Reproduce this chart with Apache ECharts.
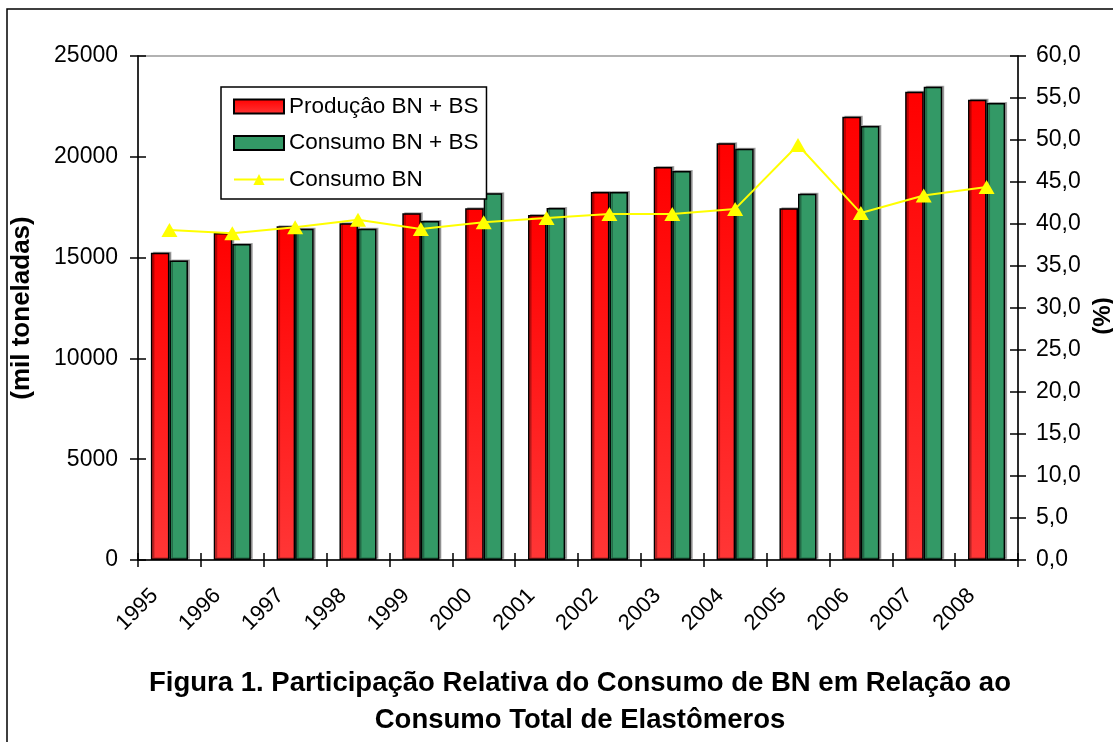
<!DOCTYPE html>
<html>
<head>
<meta charset="utf-8">
<script src="https://cdn.jsdelivr.net/npm/echarts@6/dist/echarts.min.js"></script>
<style>
html,body{margin:0;padding:0;background:#fff;}
#chart{width:1113px;height:742px;}
</style>
</head>
<body>
<div id="chart"></div>
<script>
const years = ['1995','1996','1997','1998','1999','2000','2001','2002','2003','2004','2005','2006','2007','2008'];
const producao = [15240,16220,16550,16700,17200,17450,17110,18250,19490,20670,17450,21990,23230,22830];
const consumo = [14850,15670,16430,16430,16810,18190,17460,18250,19290,20400,18170,21530,23480,22670];
const consumoBN = [39.3,38.9,39.6,40.5,39.4,40.2,40.7,41.2,41.2,41.8,49.4,41.3,43.4,44.4];
const leftTicks = [0,5000,10000,15000,20000,25000];
const rightTicks = ['0,0','5,0','10,0','15,0','20,0','25,0','30,0','35,0','40,0','45,0','50,0','55,0','60,0'];
const seriesNames = ['Produçâo BN + BS','Consumo BN + BS','Consumo BN'];
const titleLines = ['Figura 1. Participação Relativa do Consumo de BN em Relação ao','Consumo Total de Elastômeros'];

const font = 'Liberation Sans, Arial, sans-serif';
const chart = echarts.init(document.getElementById('chart'));
const redGrad = new echarts.graphic.LinearGradient(0,0,0,1,[{offset:0,color:'#ff0000'},{offset:1,color:'#ff3636'}]);

chart.setOption({
  animation:false,
  backgroundColor:'#fff',
  title:{
    text: titleLines.join('\n'),
    left: 575, top: 660, textAlign:'center',
    textStyle:{fontFamily:font,fontWeight:'bold',fontSize:27.5,color:'#000',lineHeight:37}
  },
  graphic:[{type:'rect',shape:{x:7,y:9,width:1200,height:900},style:{fill:'none',stroke:'#000',lineWidth:1.5},silent:true,z:-1}],
  legend:{
    left:221, top:87, orient:'vertical',
    padding:[8,8,8,12], itemGap:13.5,
    itemWidth:50, itemHeight:14,
    borderColor:'#000', borderWidth:1.5, backgroundColor:'#fff',
    textStyle:{fontFamily:font,fontSize:22.5,color:'#000'},
    data:[{name:seriesNames[0],icon:'rect'},{name:seriesNames[1],icon:'rect'},{name:seriesNames[2]}]
  },
  grid:{left:138,right:95,top:56,bottom:182,outerBoundsMode:'none',containLabel:false,show:true,borderColor:'#999',borderWidth:1.5},
  xAxis:[{
    type:'category', data:years, boundaryGap:true,
    axisLine:{lineStyle:{color:'#000',width:1.5}},
    axisTick:{show:true,length:7,lineStyle:{color:'#000',width:1.5}},
    axisLabel:{rotate:45,fontFamily:font,fontSize:22,color:'#000',margin:33,interval:0,align:'right',verticalAlign:'bottom',padding:[0,10,0,0]},
    z:5
  },{
    type:'category', data:years, position:'bottom', boundaryGap:true,
    axisLine:{show:false},
    axisTick:{show:true,inside:true,length:7,lineStyle:{color:'#000',width:1.5}},
    axisLabel:{show:false}
  }],
  yAxis:[{
    type:'value', min:0, max:25000, interval:5000, position:'left',
    name:'(mil toneladas)', nameLocation:'middle', nameGap:103, nameRotate:90,
    nameTextStyle:{fontFamily:font,fontWeight:'bold',fontSize:26,color:'#000'},
    axisLine:{show:true,lineStyle:{color:'#000',width:1.5}},
    axisTick:{show:true,length:8,lineStyle:{color:'#000',width:1.5}},
    axisLabel:{fontFamily:font,fontSize:23,color:'#000',margin:20,
      formatter:(v)=>{const i=leftTicks.indexOf(v);return i>=0?String(leftTicks[i]):'';}},
    splitLine:{show:false}
  },{
    type:'value', min:0, max:60, interval:5, position:'right',
    name:'(%)', nameLocation:'middle', nameGap:70, nameRotate:90,
    nameTextStyle:{fontFamily:font,fontWeight:'bold',fontSize:24,color:'#000',padding:[0,16,0,0]},
    axisLine:{show:true,lineStyle:{color:'#000',width:1.5}},
    axisTick:{show:true,length:8,lineStyle:{color:'#000',width:1.5}},
    axisLabel:{fontFamily:font,fontSize:23,color:'#000',margin:18,
      formatter:(v)=>rightTicks[Math.round(v/5)]},
    splitLine:{show:false}
  },{
    type:'value', min:0, max:25000, interval:5000, position:'left',
    axisLine:{show:false}, axisLabel:{show:false}, splitLine:{show:false},
    axisTick:{show:true,inside:true,length:8,lineStyle:{color:'#000',width:1.5}}
  },{
    type:'value', min:0, max:60, interval:5, position:'right',
    axisLine:{show:false}, axisLabel:{show:false}, splitLine:{show:false},
    axisTick:{show:true,inside:true,length:8,lineStyle:{color:'#000',width:1.5}}
  }],
  series:[{
    name:seriesNames[0], type:'bar', data:producao, yAxisIndex:0,
    barGap:'0%', barCategoryGap:'41%',
    itemStyle:{color:redGrad,borderColor:'#000',borderWidth:1.5,shadowColor:'rgba(0,0,0,0.3)',shadowOffsetX:2,shadowOffsetY:-1}
  },{
    name:seriesNames[1], type:'bar', data:consumo, yAxisIndex:0,
    barGap:'0%', barCategoryGap:'41%',
    itemStyle:{color:'#339966',borderColor:'#000',borderWidth:1.5,shadowColor:'rgba(0,0,0,0.3)',shadowOffsetX:2,shadowOffsetY:-1}
  },{
    name:seriesNames[2], type:'line', data:consumoBN, yAxisIndex:1,
    symbol:'triangle', symbolSize:[16,14],
    lineStyle:{color:'#ffff00',width:2},
    itemStyle:{color:'#ffff00'},
    z:10
  }]
});
</script>
</body>
</html>
